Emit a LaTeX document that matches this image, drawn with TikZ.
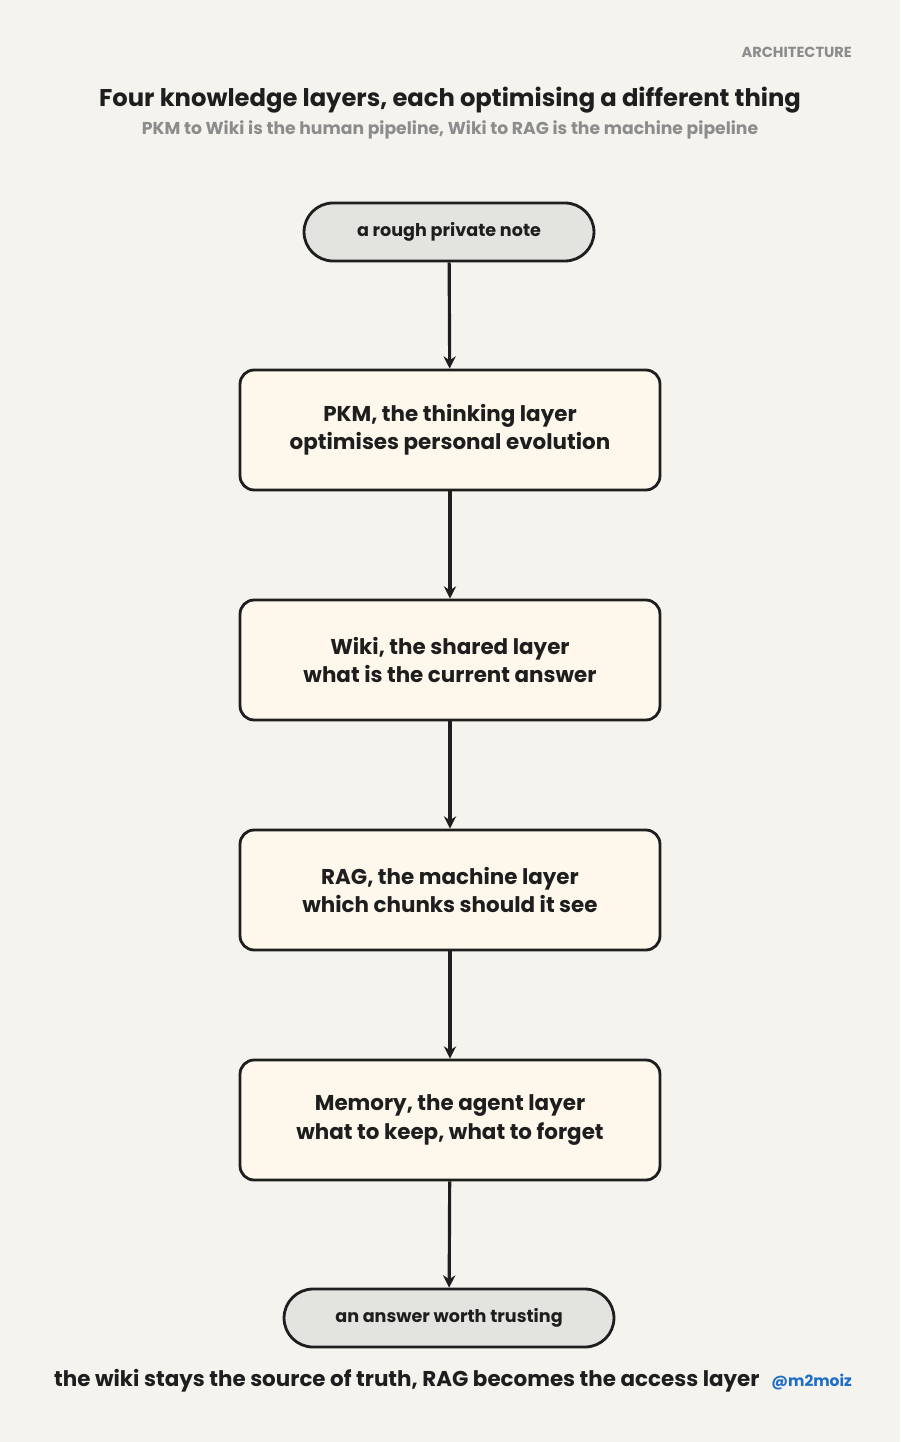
\documentclass[tikz,border=0pt]{standalone}
\usepackage{fontspec}
\setmainfont{Poppins}
\usetikzlibrary{arrows.meta}
\definecolor{paper}{RGB}{245,243,238}
\definecolor{inkdark}{RGB}{30,30,30}
\definecolor{pillgray}{RGB}{227,227,224}
\definecolor{boxcream}{RGB}{254,248,236}
\definecolor{note}{RGB}{140,140,140}
\definecolor{handle}{RGB}{30,110,200}
\tikzset{
  layer/.style={draw=inkdark, line width=1.6pt, fill=boxcream, rounded corners=8pt,
    minimum width=8.4cm, minimum height=2.4cm, align=center, font=\fontsize{12.2}{16}\selectfont\bfseries, text=inkdark},
  pill/.style={draw=inkdark, line width=1.6pt, fill=pillgray, rounded corners=0.58cm,
    minimum height=1.16cm, align=center, font=\fontsize{10}{12}\selectfont\bfseries, text=inkdark},
  flow/.style={draw=inkdark, line width=1.8pt, -{Stealth[length=7pt,width=7pt]}}
}
\begin{document}
\begin{tikzpicture}[x=0.02cm,y=-0.02cm]
    \fill[paper] (0,0) rectangle (900,1442);
    \useasboundingbox (0,0) rectangle (900,1442);

    \node[font=\fontsize{8.3}{10}\selectfont\bfseries, text=note, anchor=east] (tag) at (858,52) {ARCHITECTURE};
    \node[font=\fontsize{13.8}{16}\selectfont\bfseries, text=inkdark] (title) at (450,100) {Four knowledge layers, each optimising a different thing};
    \node[font=\fontsize{9.8}{12}\selectfont\bfseries, text=note] (sub) at (450,130) {PKM to Wiki is the human pipeline, Wiki to RAG is the machine pipeline};

    \node[pill, minimum width=5.8cm] (start) at (449,232) {a rough private note};
    \node[layer] (pkm) at (450,430) {PKM, the thinking layer\\optimises personal evolution};
    \node[layer] (wiki) at (450,660) {Wiki, the shared layer\\what is the current answer};
    \node[layer] (rag) at (450,890) {RAG, the machine layer\\which chunks should it see};
    \node[layer] (mem) at (450,1120) {Memory, the agent layer\\what to keep, what to forget};
    \node[pill, minimum width=6.6cm] (stop) at (449,1318) {an answer worth trusting};

    \draw[flow] (start) -- (pkm);
    \draw[flow] (pkm) -- (wiki);
    \draw[flow] (wiki) -- (rag);
    \draw[flow] (rag) -- (mem);
    \draw[flow] (mem) -- (stop);

    \node[font=\fontsize{12.2}{14}\selectfont\bfseries, text=inkdark, anchor=west] (foot) at (48,1381) {the wiki stays the source of truth, RAG becomes the access layer};
    \node[font=\fontsize{8.8}{10}\selectfont\bfseries, text=handle, anchor=east] (who) at (858,1382) {@m2moiz};
\end{tikzpicture}
\end{document}
